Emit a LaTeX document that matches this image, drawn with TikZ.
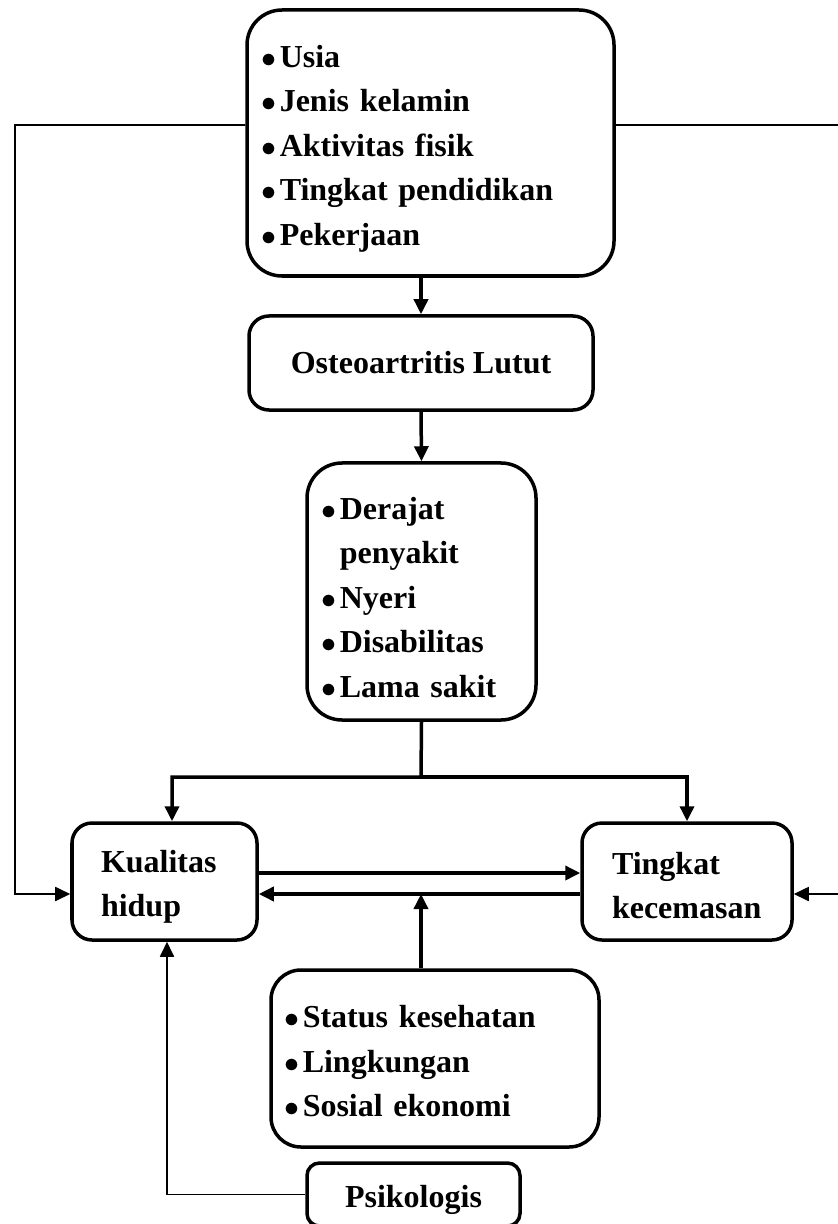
\documentclass[tikz,border=0pt]{standalone}
\usepackage{fontspec}
\setmainfont{Liberation Serif}
\usetikzlibrary{arrows.meta}

\newcommand{\butir}{$\bullet$\hspace{1.5pt}}
\newcommand{\tinggi}[1]{\rule{0pt}{#1}}

\begin{document}
\begin{tikzpicture}[x=0.4pt, y=-0.4pt,
    kotak/.style={draw, line width=1.4pt, inner ysep=0pt,
      font=\fontsize{12.8}{17.8}\selectfont\bfseries},
    daftar/.style={kotak, align=left},
    panah/.style={line width=1.4pt, -{Triangle[length=6pt,width=5.6pt]}},
    panahtipis/.style={line width=0.7pt, -{Triangle[length=6pt,width=5.6pt]}},
    garis/.style={line width=1.4pt}]
    \useasboundingbox (0,0) rectangle (838,1224);

    % kotak-kotak
    \node[daftar, rounded corners=14pt, inner xsep=5.6pt, text width=135.6pt,
      minimum height=106.4pt] (faktor) at (430.5,143)
      {\tinggi{13.5pt}\butir Usia\\ \butir Jenis kelamin\\ \butir Aktivitas fisik\\
       \butir Tingkat pendidikan\\ \butir Pekerjaan};
    \node[kotak, rounded corners=8pt, minimum width=137.6pt,
      minimum height=37.6pt] (osteo) at (421,363) {Osteoartritis Lutut};
    \node[daftar, rounded corners=14pt, inner xsep=5.6pt, text width=80.4pt,
      minimum height=102.8pt] (gejala) at (421.5,591.5)
      {\tinggi{13.5pt}\butir Derajat\\ \phantom{\butir}penyakit\\ \butir Nyeri\\
       \butir Disabilitas\\ \butir Lama sakit};
    \node[daftar, rounded corners=8pt, inner xsep=11.6pt, text width=50.8pt,
      minimum height=46.8pt] (kualitas) at (164.5,881.5)
      {\tinggi{13pt}Kualitas\\ hidup};
    \node[daftar, rounded corners=8pt, inner xsep=12pt, text width=60pt,
      minimum height=46.8pt] (cemas) at (687,881.5)
      {\tinggi{12pt}Tingkat\\ kecemasan};
    \node[daftar, rounded corners=12pt, inner xsep=5.2pt, text width=120.8pt,
      minimum height=70.8pt] (status) at (435,1058.5)
      {\tinggi{11.2pt}\butir Status kesehatan\\ \butir Lingkungan\\ \butir Sosial ekonomi};
    \node[kotak, rounded corners=5pt, minimum width=85.2pt, minimum height=25.2pt,
      text height=12.7pt, text depth=2.6pt] (psiko) at (413.5,1194.5) {Psikologis};

    % titik bantu
    \coordinate (cabang) at (421,777);
    \coordinate (belokkiri) at (15,894);
    \coordinate (belokkanan) at (845,894);
    \coordinate (balik) at ([yshift=-5pt]cemas.west);

    % garis penghubung
    \draw[panahtipis] ([yshift=7.2pt]faktor.west) -| (belokkiri)
      -- ([yshift=-5pt]kualitas.west);
    \draw[panahtipis] ([yshift=7.2pt]faktor.east) -| (belokkanan)
      -- ([yshift=-5pt]cemas.east);
    \draw[panah] (faktor.south -| osteo) -- (osteo.north);
    \draw[panah] (osteo.south) -- (gejala.north);
    \draw[panah] (gejala.south) -- (cabang) -| ([xshift=3pt]kualitas.north);
    \draw[panah] (cabang) -| (cemas.north);
    \draw[panah] ([yshift=3.4pt]kualitas.east)
      -- ([yshift=3.4pt]kualitas.east -| cemas.west);
    \draw[panah] (balik) -- (balik -| kualitas.east);
    \draw[panah] (status.north -| cabang) -- (cabang |- balik);
    \draw[panahtipis] (psiko.west) -| ([xshift=1pt]kualitas.south);
\end{tikzpicture}
\end{document}
